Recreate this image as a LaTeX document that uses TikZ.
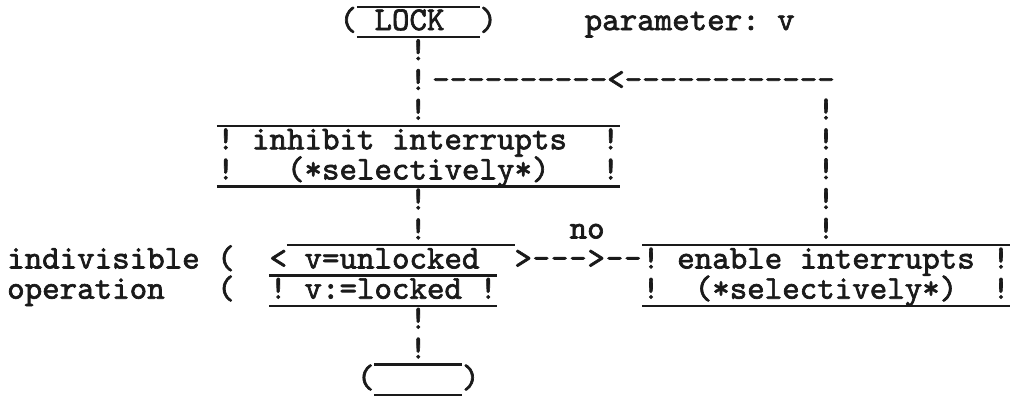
\documentclass[tikz,border=0pt]{standalone}
\usepackage{fontspec}
\newfontfamily\twfam{lmmono10-regular.otf}[FakeBold=2]
\usetikzlibrary{positioning, decorations.markings}
\definecolor{ink}{HTML}{1A1A1A}
\newcommand\tw{\twfam\fontsize{33.33pt}{29.8pt}\selectfont}

\begin{document}
\begin{tikzpicture}[x=1pt, y=-29.8pt,
    glyph/.style={font=\tw, text=ink, inner sep=0pt,
                  text height=23pt, text depth=6.8pt},
    rule/.style={draw=ink, line width=2.2pt},
    bangs/.style={decorate, decoration={markings,
        mark=between positions #1 and 0.99 step 29.8pt with {\node[glyph] {!};}}},
    bangs/.default=14.9pt,
    backrun/.style={decorate, decoration={markings,
        mark=between positions 0pt and 193pt step 17.5pt with {\node[glyph] {-};},
        mark=at position 210pt with {\node[glyph] {<};},
        mark=between positions 227.5pt and 386pt step 17.5pt with {\node[glyph] {-};}}},
    norun/.style={decorate, decoration={markings,
        mark=between positions 9.15pt and 46pt step 18.3pt with {\node[glyph] {-};},
        mark=at position 64.05pt with {\node[glyph] {>};},
        mark=between positions 82.35pt and 101pt step 18.3pt with {\node[glyph] {-};}}}
  ]
    \useasboundingbox (0,-0.7383) rectangle (1016,12.6174);

    \node[glyph] (lock)  at (418.25,0) {(~LOCK~~)};
    \node[glyph, anchor=west] (param) at (584.5,0) {parameter:~v};

    \node[glyph] (inhibit) at (418.25,4) {!~inhibit~interrupts~~!};
    \node[glyph, below=0pt of inhibit] (inhibitb) {!~~~(*selectively*)~~~!};

    \node[glyph, anchor=west] (indiv) at (7,8) {indivisible~(};
    \node[glyph, anchor=north west] (oper) at (indiv.south west) {operation~~~(};

    \node[glyph] (unlocked) at (400.75,8) {<~v=unlocked~~>};
    \node[glyph, anchor=north west] (locked) at (unlocked.south west) {!~v:=locked~!};

    \node[glyph] (enable) at (826,8) {!~enable~interrupts~!};
    \node[glyph, below=0pt of enable] (enableb) {!~~(*selectively*)~~!};

    \node[glyph] (finish) at (418.25,12) {(~~~~~)};

    \coordinate (turn) at (826,2);
    \coordinate (join) at (lock |- turn);

    % over- and underlines
    \draw[rule] ([xshift=17.5pt]lock.north west) -- ([xshift=-17.5pt]lock.north east);
    \draw[rule] ([xshift=17.5pt]lock.south west) -- ([xshift=-17.5pt]lock.south east);
    \draw[rule] (inhibit.north west) -- (inhibit.north east);
    \draw[rule] (inhibitb.south west) -- (inhibitb.south east);
    \draw[rule] ([xshift=17.5pt]unlocked.north west) -- ([xshift=-17.5pt]unlocked.north east);
    \draw[rule] (locked.north west) -- (locked.north east);
    \draw[rule] (locked.south west) -- (locked.south east);
    \draw[rule] (enable.north west) -- (enable.north east);
    \draw[rule] (enableb.south west) -- (enableb.south east);
    \draw[rule] ([xshift=17.5pt]finish.north west) -- ([xshift=-17.5pt]finish.north east);
    \draw[rule] ([xshift=17.5pt]finish.south west) -- ([xshift=-17.5pt]finish.south east);

    % typed connectors
    \path[bangs] (lock.south) -- (inhibit.north);
    \path[bangs] (inhibitb.south) -- (inhibitb.south |- unlocked.north);
    \path[bangs] (finish.north |- locked.south) -- (finish.north);
    \path[norun] (unlocked.east) -- node[glyph, above=14.9pt] (no) {no} (enable.west);
    \path[bangs=29.8pt] (turn) -- (enable.north);
    \path[backrun] (turn) -- (join);
\end{tikzpicture}
\end{document}
